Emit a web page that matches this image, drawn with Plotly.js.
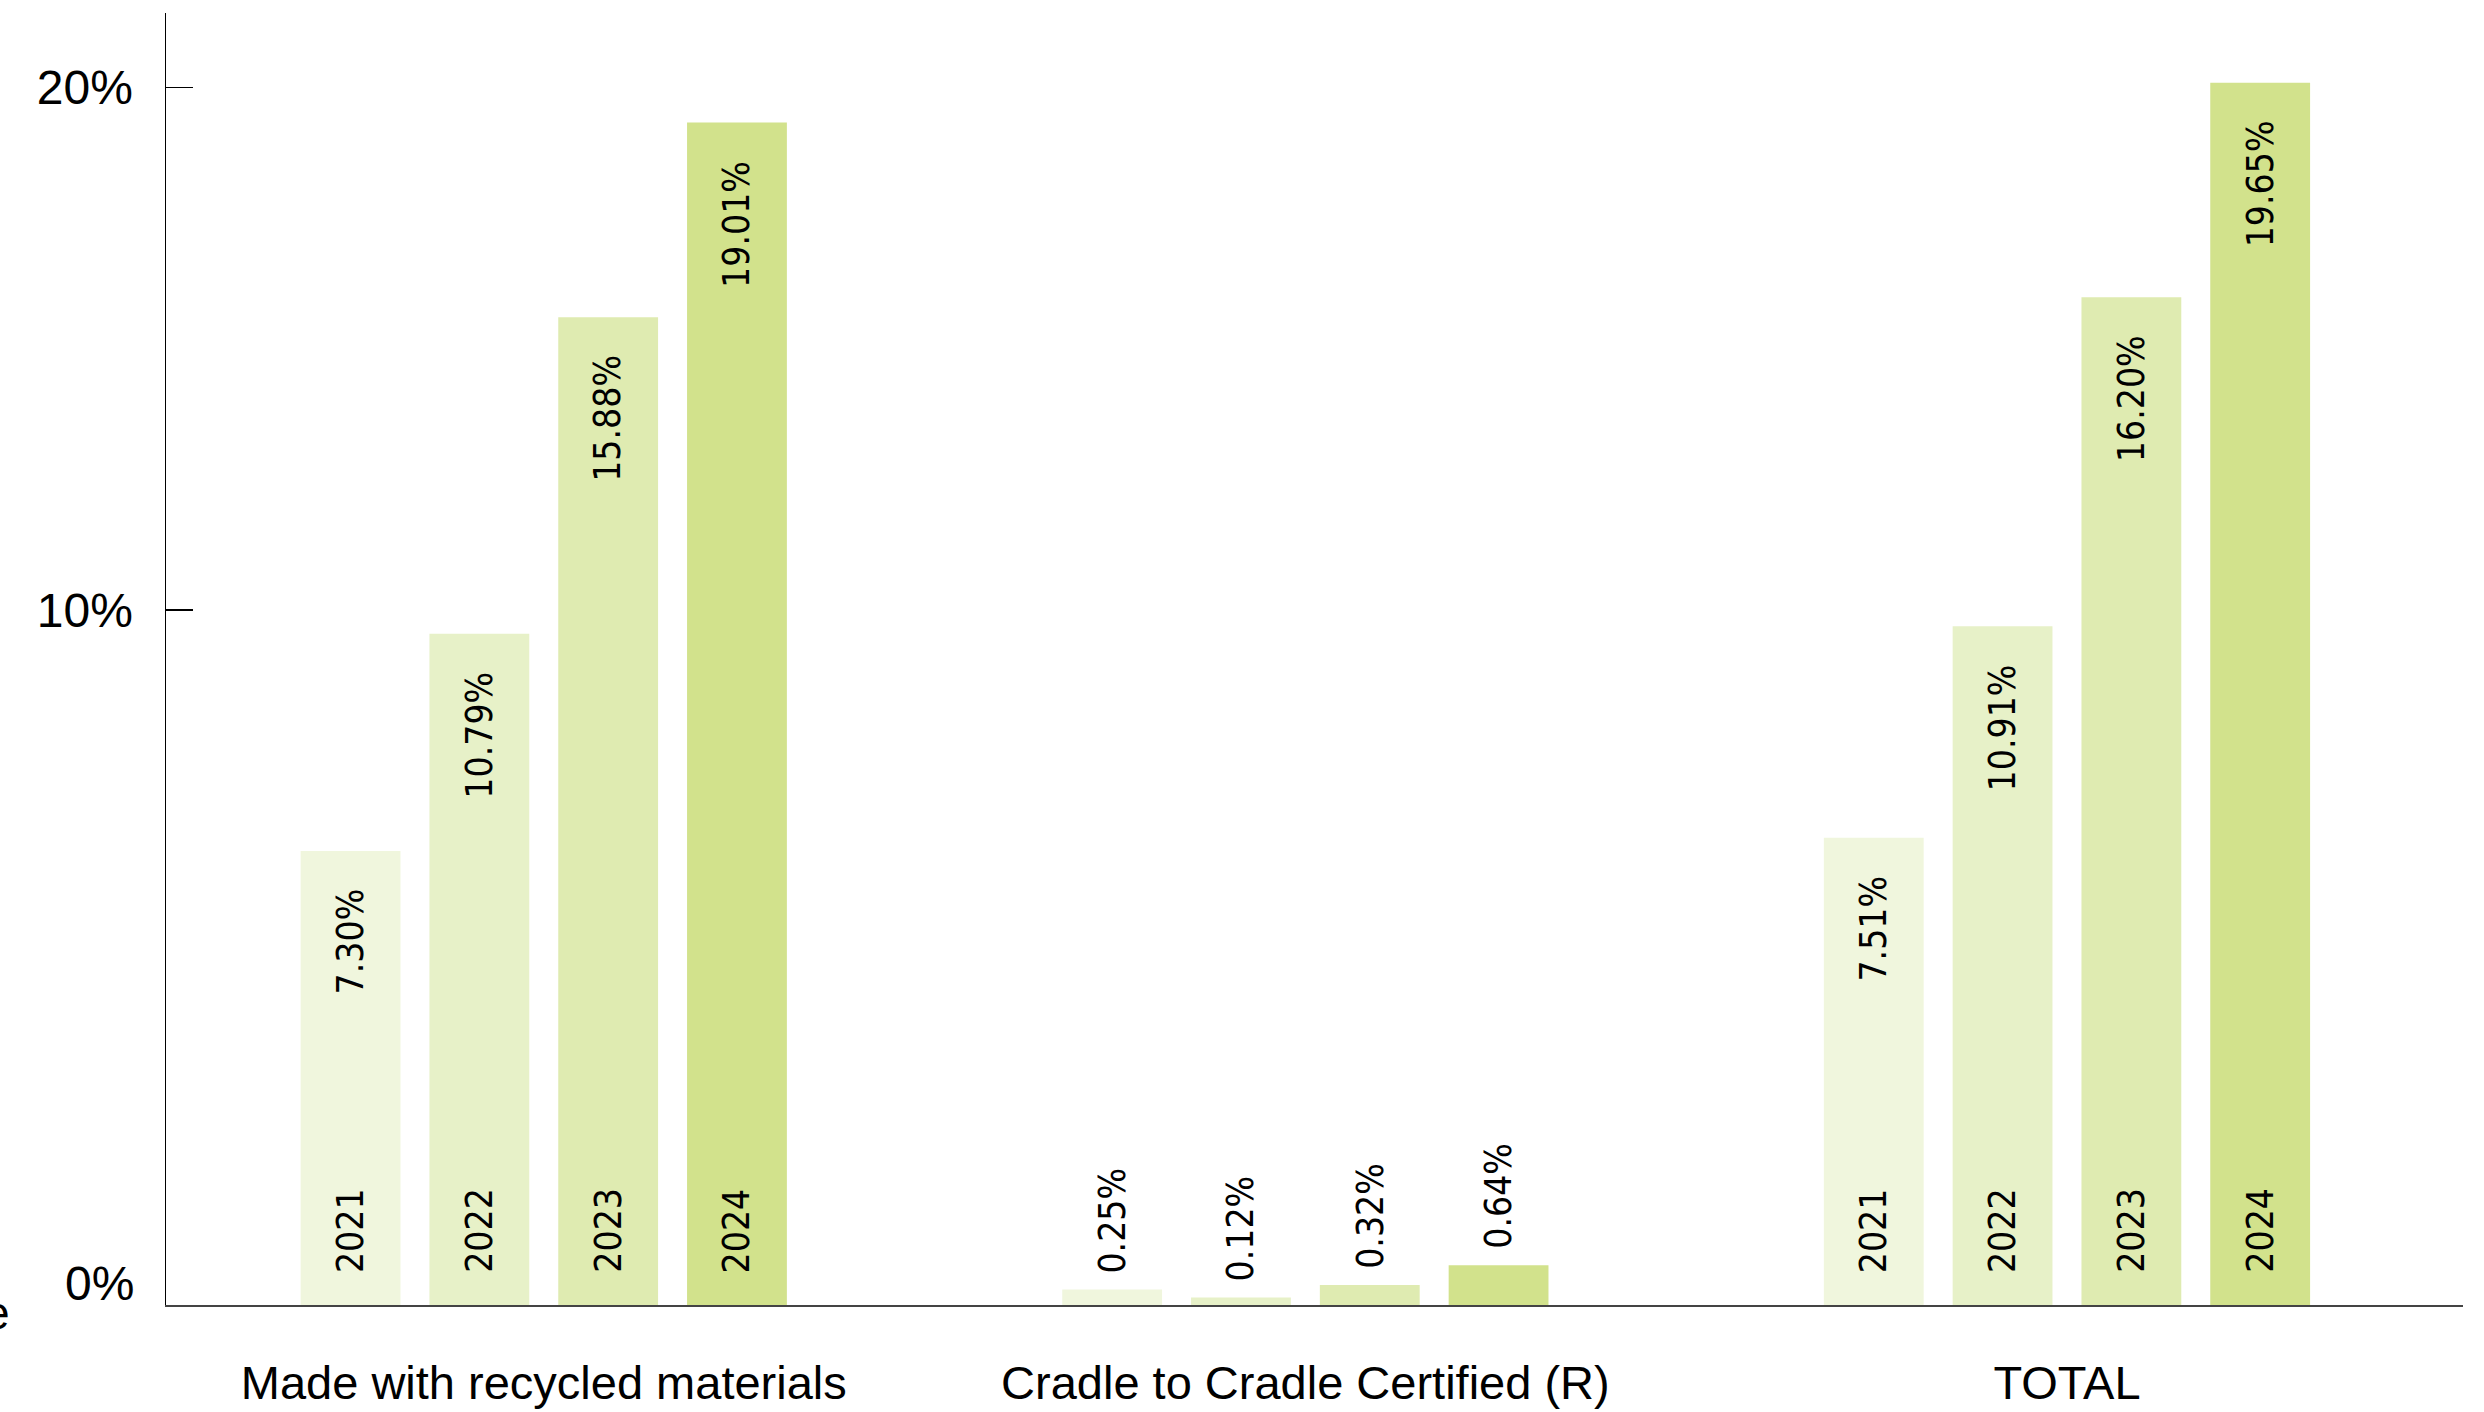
<!DOCTYPE html>
<html>
<head>
<meta charset="utf-8">
<script src="https://cdn.plot.ly/plotly-3.0.1.min.js"></script>
<style>
html,body{margin:0;padding:0;background:#fff;overflow:hidden}
#chart{width:2484px;height:1412px}
</style>
</head>
<body>
<div id="chart"></div>
<script>
// ---- data ----
const categories = ['Made with recycled materials', 'Cradle to Cradle Certified (R)', 'TOTAL'];
const years = ['2021', '2022', '2023', '2024'];
const values2021 = [7.30, 0.25, 7.51];
const values2022 = [10.79, 0.12, 10.91];
const values2023 = [15.88, 0.32, 16.20];
const values2024 = [19.01, 0.64, 19.65];
const yTickVals = [11.17, 19.57];
const yTickText = ['10%', '20%'];
const zeroLabel = '0%';
const zeroLabelPos = 0.35;

// ---- style ----
const seriesValues = [values2021, values2022, values2023, values2024];
const colors = ['#f0f6dd', '#e7f1c8', '#dfebb1', '#d2e28c'];
const FONT = '"Liberation Sans", Arial, sans-serif';
const NARROW = '"Liberation Sans Narrow", "DejaVu Sans Condensed", "Liberation Sans", sans-serif';
const BARGAP = 0.3235;
const BARGROUPGAP = 0.225;
const slot = (1 - BARGAP) / years.length;

const traces = years.map((yr, j) => ({
  type: 'bar',
  name: yr,
  x: categories,
  y: seriesValues[j],
  marker: {color: colors[j], line: {width: 0}},
  hoverinfo: 'skip'
}));

const annotations = [];
years.forEach((yr, j) => {
  seriesValues[j].forEach((v, i) => {
    const xpos = i + (j - (years.length - 1) / 2) * slot;
    const big = v >= 1;
    annotations.push({
      xref: 'x', yref: 'y', x: xpos, y: v,
      text: v.toFixed(2) + '%',
      showarrow: false, textangle: -90,
      xanchor: 'center', yanchor: big ? 'top' : 'bottom',
      yshift: big ? -36 : 14,
      font: {family: NARROW, size: 37, color: '#000'}
    });
    if (big) {
      annotations.push({
        xref: 'x', yref: 'y', x: xpos, y: 0,
        text: yr,
        showarrow: false, textangle: -90,
        xanchor: 'center', yanchor: 'bottom',
        yshift: 30,
        font: {family: NARROW, size: 37, color: '#000'}
      });
    }
  });
});
// "0%" label, sitting slightly above the baseline as in the original
annotations.push({
  xref: 'paper', yref: 'y', x: 0, y: zeroLabelPos,
  text: zeroLabel, showarrow: false, xanchor: 'right', yanchor: 'middle',
  xshift: -30,
  font: {family: FONT, size: 48, color: '#000'}
});
// clipped fragment of text at far left edge
annotations.push({
  xref: 'paper', yref: 'paper', x: -0.067, y: -0.006,
  text: 'e', showarrow: false, xanchor: 'right', yanchor: 'middle',
  font: {family: FONT, size: 46, color: '#000'}
});

const layout = {
  width: 2484, height: 1412,
  margin: {l: 166, r: 21, t: 13, b: 107, pad: 0},
  paper_bgcolor: '#fff', plot_bgcolor: '#fff',
  showlegend: false,
  barmode: 'group',
  bargap: BARGAP, bargroupgap: BARGROUPGAP,
  font: {family: FONT, color: '#000'},
  xaxis: {
    type: 'category',
    range: [-0.496, 2.52],
    showline: true, linecolor: '#444', linewidth: 2,
    ticks: '', showgrid: false, zeroline: false,
    tickfont: {family: FONT, size: 47, color: '#000'},
    ticklabelstandoff: 36
  },
  yaxis: {
    range: [0, 20.77],
    tickvals: yTickVals, ticktext: yTickText,
    showline: true, linecolor: '#000', linewidth: 1.5,
    ticks: 'inside', ticklen: 27, tickwidth: 1.5, tickcolor: '#000',
    showgrid: false, zeroline: false,
    tickfont: {family: FONT, size: 48, color: '#000'},
    ticklabelstandoff: 22
  },
  annotations: annotations
};

Plotly.newPlot('chart', traces, layout, {displayModeBar: false, staticPlot: true});
</script>
</body>
</html>
